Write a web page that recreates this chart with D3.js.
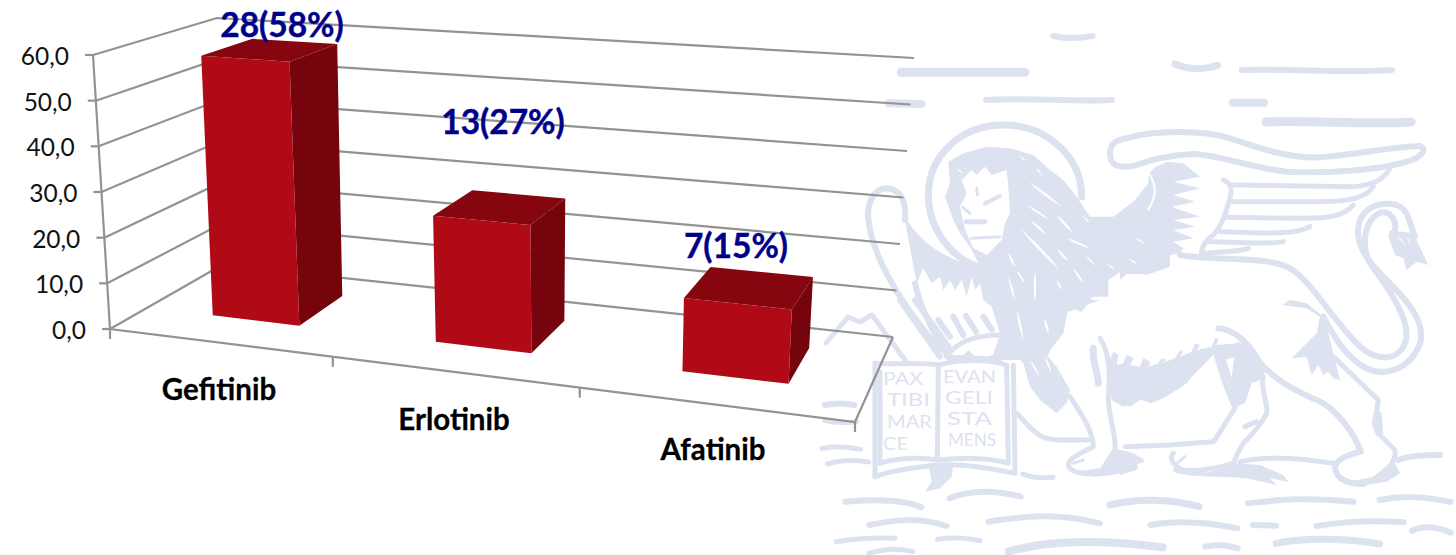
<!DOCTYPE html>
<html>
<head>
<meta charset="utf-8">
<script src="https://cdn.jsdelivr.net/npm/d3@7"></script>
<style>
  html, body { margin: 0; padding: 0; background: #fff; }
  svg { display: block; }
  text { font-family: Lato, Carlito, sans-serif; }
</style>
</head>
<body>
<svg id="chart" width="1456" height="555"></svg>
<script>
// Chart data
const drugs = ["Gefitinib", "Erlotinib", "Afatinib"];
const patientCounts = [28, 13, 7];
const patientShares = [58, 27, 15];
const axisTicks = [0, 10, 20, 30, 40, 50, 60];

const svg = d3.select("#chart");

// Perspective frame of the 3D plot box: floor and ceiling corners on screen
const floorQuad = [[110, 329], [855, 422], [893, 337], [222, 265]];
const ceilQuad  = [[93, 55], [872.8, 109.2], [914, 58], [217, 18]];

function quadMap(q) {
  const [[x0, y0], [x1, y1], [x2, y2], [x3, y3]] = q;
  const dx1 = x1 - x2, dx2 = x3 - x2, sx = x0 - x1 + x2 - x3;
  const dy1 = y1 - y2, dy2 = y3 - y2, sy = y0 - y1 + y2 - y3;
  const det = dx1 * dy2 - dx2 * dy1;
  const g = (sx * dy2 - dx2 * sy) / det, h = (dx1 * sy - sx * dy1) / det;
  const a = x1 - x0 + g * x1, b = x3 - x0 + h * x3;
  const d = y1 - y0 + g * y1, e = y3 - y0 + h * y3;
  return (u, v) => {
    const w = g * u + h * v + 1;
    return [(a * u + b * v + x0) / w, (d * u + e * v + y0) / w];
  };
}
const onFloor = quadMap(floorQuad), onCeil = quadMap(ceilQuad);

const level = d3.scaleLinear().domain([0, 60]).range([0, 1]);
const band = d3.scaleBand().domain(drugs).range([0.004, 1.004]).paddingInner(0.6).paddingOuter(0.3);
const depthFront = 0.31, depthBack = 0.75;

// Project (position along categories, depth, value) to the screen
function project(u, v, value) {
  return d3.interpolateArray(onFloor(u, v), onCeil(u, v))(level(value));
}
const outline = d3.line().curve(d3.curveLinearClosed);

// Watermark: winged lion with book above the water
const tint = "#dde2f0";
const paper = "#ffffff";
const layer = (x, y, sx, sy) => svg.append("g").attr("transform", `translate(${x},${y}) scale(${sx},${sy || sx})`);
const third = 1 / 3;
const head = layer(860, 120, third);
const wing = layer(1120, 130, third);
const book = layer(860, 300, third);
const rear = layer(1120, 300, third);
const sky = layer(820, 20, 0.4055, third);
const sea = layer(820, 290, 0.4055, third);

function ink(group, d, width, colour) {
  group.append("path").attr("d", d).attr("fill", "none").attr("stroke", colour || tint)
    .attr("stroke-width", width).attr("stroke-linecap", "round").attr("stroke-linejoin", "round")
    .attr("vector-effect", "non-scaling-stroke");
}
function fill(group, d, colour) {
  group.append("path").attr("d", d).attr("fill", colour || tint).attr("stroke", "none");
}
// Tapered streak between two points
function lens(group, x1, y1, x2, y2, w, colour) {
  const mx = (x1 + x2) / 2, my = (y1 + y2) / 2;
  const dx = x2 - x1, dy = y2 - y1, len = Math.hypot(dx, dy);
  const nx = -dy / len * w, ny = dx / len * w;
  fill(group, `M${x1},${y1} Q${mx + nx},${my + ny} ${x2},${y2} Q${mx - nx},${my - ny} ${x1},${y1} Z`, colour || paper);
}

// Clouds
[["M575,48 C600,55 640,55 672,48", 6], ["M200,157 L505,157", 9], ["M875,132 C910,150 950,150 980,136", 7],
 ["M1040,150 C1150,145 1300,160 1410,150", 6], ["M170,250 L250,252", 8], ["M410,240 C500,232 620,246 720,240", 6],
 ["M1018,248 L1095,248", 8], ["M1100,306 C1200,300 1350,315 1458,306", 9]]
  .forEach(([d, w]) => ink(sky, d, w));

// Far wing
ink(head, "M135,300 C140,240 120,205 75,205 C35,210 20,260 25,300 C40,420 130,560 240,690", 6);
ink(head, "M165,490 C180,560 220,640 270,720", 6);
fill(head, "M135,290 C170,350 240,420 360,440 L400,500 L395,560 L370,540 L360,490 L345,510 L335,470 L320,530 L305,480 L285,510 L270,480 L250,510 L240,470 L215,490 L190,445 L170,490 L140,330 Z");

// Halo
ink(head, "M370,445 C270,420 205,320 205,225 C205,110 300,15 430,15 C560,15 665,110 665,230", 7);

// Mane and shoulder
fill(head, "M265,125 L310,100 L380,80 L450,85 L520,105 L570,150 L610,180 L650,230 L690,290 L760,290 L820,245 L865,190 L880,145 L930,125 L930,440 L860,465 L790,450 L745,480 L745,530 L700,530 L665,575 L625,560 L610,640 L570,690 L560,720 L395,720 L420,640 L395,560 L400,500 L360,440 L330,380 L300,340 L280,300 L255,230 L270,190 Z");
// Face
fill(head, "M305,180 L335,150 L350,165 L375,140 L395,165 L440,150 L445,200 L450,280 L435,310 L425,360 L380,405 L340,385 L320,340 L310,310 L300,260 L320,220 Z", paper);
ink(head, "M350,205 L352,225", 3);
ink(head, "M375,250 L420,228", 4);
ink(head, "M318,305 L375,305", 5);
ink(head, "M335,355 L420,350", 3);
ink(head, "M308,262 L330,280", 3);
lens(head, 288, 143, 312, 162, 5);
// Highlights in the mane
[[475,105,500,125,4], [525,140,550,170,5], [505,185,605,260,8], [500,255,570,300,6], [590,285,640,340,8], [510,300,560,345,7],
 [480,325,600,450,9], [620,355,690,385,7], [590,385,625,425,7], [675,405,710,440,5], [640,445,670,490,7], [740,430,765,450,5],
 [800,415,835,435,5], [820,345,860,375,5], [665,285,690,310,4], [445,400,465,440,7], [470,450,495,490,6], [445,470,465,540,7],
 [525,450,525,550,7], [590,480,605,510,6], [420,540,440,560,5], [555,595,565,640,8], [460,590,500,660,8]]
  .forEach(([a, b, c, d, w]) => lens(head, a, b, c, d, w));

// Near wing root
fill(wing, "M0,270 L60,210 L85,165 L85,130 L110,110 L140,95 L190,100 L240,140 L160,155 L240,175 L160,195 L225,215 L155,230 L240,260 L160,270 L225,290 L160,300 L220,325 L160,335 L190,355 L180,370 L90,385 L80,432 L20,432 L0,450 Z");
ink(wing, "M85,128 C112,165 110,200 85,238", 2, paper);
lens(wing, 40, 320, 80, 345, 5);
lens(wing, 25, 385, 55, 405, 5);
// Near wing outline and feathers
ink(wing, "M40,108 C-10,115 -30,105 -30,70 C-30,40 -10,30 20,25 C100,0 250,0 330,25 C420,55 500,85 600,82 C700,75 820,50 900,48 C925,60 900,85 860,95 C760,125 600,130 500,125 C400,115 300,75 220,72 C150,75 90,90 40,108", 6);
["M810,115 C790,150 760,165 700,170 L340,165", "M760,170 C740,200 700,215 600,215 L340,215", "M700,225 C670,260 620,265 550,265 L320,262",
 "M570,290 C530,310 470,310 400,308 L300,305", "M490,335 C450,345 350,335 270,335", "M385,355 C360,365 300,365 255,370",
 "M310,150 C335,160 340,180 325,220 C315,260 300,290 285,310 C260,330 245,345 245,370"]
  .forEach(d => ink(wing, d, 5));

// Back line running into the tail, then the outer tail line and its tip
ink(wing, "M180,375 C300,395 430,375 510,415 C580,460 630,560 720,650 C780,700 840,690 858,630 C870,570 810,480 750,400 C720,340 735,270 780,248 C810,240 830,270 825,300", 6);
ink(wing, "M610,560 C640,620 680,680 730,710 C790,745 870,720 900,640 C920,570 850,500 790,440 C730,380 700,330 720,270 C740,225 790,215 830,225 C870,240 870,290 885,320", 6);
fill(wing, "M810,300 L880,310 L925,405 L890,395 L860,420 L850,385 L825,375 L805,320 Z");
lens(wing, 830, 315, 860, 350, 4);
lens(wing, 860, 320, 872, 345, 3);

// Haunch, hind quarters and rear legs
fill(rear, "M485,15 L510,0 L560,10 L610,50 L625,100 L640,160 L660,240 L640,235 L625,215 L610,225 L595,195 L575,225 L560,170 L515,175 L590,100 L600,50 L560,25 Z");
ink(rear, "M295,85 C340,90 380,120 415,180 C450,230 520,270 590,300 C640,320 700,390 722,455 C680,465 645,480 645,505 C650,540 690,552 730,552", 6);
ink(rear, "M640,170 L775,300 C770,340 760,380 775,400 L825,450 C830,490 790,530 730,552", 5);
fill(rear, "M765,320 L785,340 L790,400 L770,410 L755,370 Z");
fill(rear, "M820,480 L840,520 L800,545 L720,558 L670,550 L760,530 Z");
fill(rear, "M355,125 L400,150 L440,210 L420,240 L395,250 L375,310 L350,320 L320,240 L290,165 Z");
fill(rear, "M318,178 L342,172 L335,235 Z", paper);
ink(rear, "M386,290 L386,305", 3, paper);
ink(rear, "M290,170 C310,240 330,290 345,325 C320,360 300,400 280,425 L150,435 L15,440", 5);
ink(rear, "M430,230 C420,270 445,310 440,340 C425,370 400,400 370,430 C350,460 345,475 340,490 C290,505 240,515 190,510 C160,500 145,475 160,460", 5);
ink(rear, "M375,380 L410,365", 5);
ink(rear, "M170,490 L195,470", 3);
fill(rear, "M240,525 L350,490 L420,495 L490,525 L505,545 L450,535 L470,555 L380,535 Z");
ink(rear, "M165,510 C190,525 300,525 360,525", 4);
ink(rear, "M360,485 C430,470 520,470 640,490", 5);
ink(rear, "M835,480 C870,465 920,465 960,465", 6);
fill(rear, "M0,450 L40,460 L75,485 L45,495 L50,510 L0,525 Z");
// Belly fur
fill(rear, "M0,210 L20,170 L40,175 L25,205 L60,205 L70,180 L90,185 L85,205 L110,195 L125,175 L140,180 L125,190 L165,175 L180,150 L190,155 L180,170 L215,155 L225,130 L240,135 L230,150 L275,140 L285,115 L295,115 L290,135 L360,130 L355,145 L280,165 L250,195 L220,225 L200,250 L170,270 L130,295 L100,305 L60,300 L30,320 L0,315 Z");
fill(book, "M745,190 L760,155 L775,165 L770,195 L790,190 L800,165 L820,175 L810,195 L840,200 L850,175 L870,185 L865,200 L900,190 L900,300 L870,310 L830,290 L790,320 L755,300 Z");

// Chest and front legs
fill(book, "M390,0 L720,0 L640,30 L580,50 L550,90 L540,140 L590,200 L630,270 L620,310 L590,340 L540,300 L510,260 L490,190 L450,150 L460,120 L420,60 Z");
lens(book, 470, 30, 490, 120, 8);
lens(book, 552, 55, 565, 100, 7);
lens(book, 555, 170, 575, 220, 6);
lens(book, 510, 180, 540, 230, 6);
ink(book, "M700,145 C695,180 715,220 715,250", 7);
ink(book, "M720,115 C750,160 750,220 745,290", 5);
ink(book, "M630,290 C670,350 700,400 700,440 C660,460 625,475 625,495 C630,520 680,525 740,520 L790,510", 5);
ink(book, "M745,290 C745,360 770,400 765,450", 5);
fill(book, "M760,445 L820,460 L855,480 L830,490 L835,505 L790,520 L700,530 L640,515 L720,505 Z");
ink(book, "M640,490 L670,480", 3);
ink(book, "M470,340 C510,380 530,420 600,420 L690,420", 5);
ink(book, "M395,178 L450,160", 8);
ink(book, "M270,172 L400,176", 5);
fill(book, "M300,175 L325,150 L340,165 L345,185 L300,185 Z");
ink(book, "M260,170 C290,125 350,105 420,105", 5);

// Feather stripes and far-wing tips above the book
["M120,0 L240,170", "M165,0 L265,140"].forEach(d => ink(book, d, 6));
["M235,60 L270,110", "M280,50 L310,105", "M318,48 L348,95", "M370,50 L395,88"].forEach(d => ink(book, d, 6));

// Book
ink(book, "M45,190 C100,195 180,185 235,195 L232,480 C180,470 100,475 60,490 L60,215", 5);
ink(book, "M235,195 C290,180 380,175 440,195 L445,490 C380,470 300,475 232,480", 5);
ink(book, "M45,190 L45,530", 5);
ink(book, "M460,195 L465,515", 5);
ink(book, "M45,530 C100,510 180,500 240,495 C300,490 400,505 465,520", 5);
fill(book, "M205,490 L280,490 L275,530 L240,565 L195,575 L215,545 Z");

// Mountains
ink(book, "M-102,129 L-36,51 L0,66 L36,45 L135,180", 5);

// Water
[["M12,345 C40,338 60,338 85,345", 6], ["M12,392 C40,400 60,398 90,395", 5], ["M5,475 C40,465 70,470 100,478", 5], ["M18,522 C50,510 90,510 120,516", 5],
 ["M500,552 C520,562 550,565 575,562", 5], ["M62,635 C120,630 200,625 250,652", 6], ["M320,625 C370,600 430,600 495,620", 6],
 ["M715,645 C780,625 860,625 935,650", 7], ["M1055,640 C1130,630 1200,620 1315,635", 6], ["M1380,630 C1440,615 1490,620 1555,636", 6],
 ["M122,705 C180,690 240,680 312,708", 6], ["M415,695 C500,680 580,665 690,700", 6], ["M815,705 C880,690 950,695 1030,715", 6],
 ["M1068,705 L1125,707", 6], ["M1225,708 C1290,695 1360,690 1440,697", 6], ["M1460,722 C1490,705 1520,710 1555,728", 6],
 ["M40,755 C90,745 130,742 185,745", 5], ["M290,748 C330,740 360,745 395,752", 5], ["M465,785 C560,750 700,750 845,772", 8],
 ["M950,770 C980,762 1000,765 1030,775", 6], ["M1125,760 C1200,742 1300,745 1380,762", 7], ["M120,790 C160,775 190,775 230,785", 5]]
  .forEach(([d, w]) => ink(sea, d, w));

// Book inscription
const inscription = [
  ["PAX", 883, 385, 40], ["TIBI", 887, 406, 43], ["MAR", 887, 428, 45], ["CE", 883, 450, 25],
  ["EVAN", 943, 383, 53], ["GELI", 945, 404, 48], ["STA", 947, 425, 45], ["MENS", 948, 446, 48]
];
svg.append("g").selectAll("text").data(inscription).join("text")
  .attr("x", d => d[1]).attr("y", d => d[2]).text(d => d[0])
  .attr("textLength", d => d[3]).attr("lengthAdjust", "spacingAndGlyphs")
  .attr("font-size", 17).attr("fill", tint);

// Gridlines along side wall and back wall
const gridColour = "#939393";
const axes = svg.append("g").attr("fill", "none").attr("stroke", gridColour).attr("stroke-width", 2.2);
const polyline = d3.line();
axes.selectAll("path.grid").data(axisTicks).join("path").attr("class", "grid")
  .attr("d", t => polyline([project(0, 0, t), project(0, 1, t), project(1, 1, t)]));
// Vertical axis edge, floor front and right edges
axes.append("path").attr("d", polyline([project(0, 0, 60), project(0, 0, 0), project(1, 0, 0), project(1, 1, 0)]));
// Value axis ticks
axes.selectAll("path.ytick").data(axisTicks).join("path").attr("class", "ytick")
  .attr("d", t => { const p = project(0, 0, t); return polyline([[p[0] - 8, p[1]], p]); });
// Category boundary ticks on the floor front edge
axes.selectAll("path.xtick").data(d3.range(drugs.length + 1)).join("path").attr("class", "xtick")
  .attr("d", i => { const p = project(i / drugs.length, 0, 0); return polyline([p, [p[0], p[1] + 10]]); });

// Value axis labels with a decimal comma
const commaFormat = d3.formatLocale({ decimal: ",", thousands: ".", grouping: [3], currency: ["", "€"] }).format(".1f");
svg.append("g").selectAll("text").data(axisTicks).join("text")
  .attr("x", t => project(0, 0, t)[0] - 24).attr("y", t => project(0, 0, t)[1] + 10)
  .attr("text-anchor", "end").attr("font-size", 24.5).attr("fill", "#111")
  .text(commaFormat);

// Bars: top, side and front faces
const bars = svg.append("g").selectAll("g").data(drugs.map((name, i) => ({ name, value: patientShares[i] }))).join("g");
bars.each(function (d) {
  const u0 = band(d.name), u1 = u0 + band.bandwidth();
  const g = d3.select(this);
  g.append("path").attr("fill", "#85060f").attr("d", outline([project(u0, depthFront, d.value), project(u1, depthFront, d.value), project(u1, depthBack, d.value), project(u0, depthBack, d.value)]));
  g.append("path").attr("fill", "#75040c").attr("d", outline([project(u1, depthFront, d.value), project(u1, depthBack, d.value), project(u1, depthBack, 0), project(u1, depthFront, 0)]));
  g.append("path").attr("fill", "#b00a16").attr("d", outline([project(u0, depthFront, d.value), project(u1, depthFront, d.value), project(u1, depthFront, 0), project(u0, depthFront, 0)]));
});

// Value labels above the bars
const labelSpots = [[282, 37], [503, 134], [736, 258]];
svg.append("g").selectAll("text").data(patientCounts).join("text")
  .attr("x", (d, i) => labelSpots[i][0]).attr("y", (d, i) => labelSpots[i][1])
  .attr("text-anchor", "middle").attr("font-size", 33.5).attr("font-weight", 700).attr("fill", "#00008b")
  .attr("stroke", "#00008b").attr("stroke-width", 0.4)
  .text((d, i) => `${d}(${patientShares[i]}%)`);

// Category labels below the floor
const nameSpots = [[219, 400], [454, 430], [713, 460]];
svg.append("g").selectAll("text").data(drugs).join("text")
  .attr("x", (d, i) => nameSpots[i][0]).attr("y", (d, i) => nameSpots[i][1])
  .attr("text-anchor", "middle").attr("font-size", 29.5).attr("font-weight", 700).attr("fill", "#000")
  .attr("stroke", "#000").attr("stroke-width", 0.3)
  .text(d => d);
</script>
</body>
</html>
